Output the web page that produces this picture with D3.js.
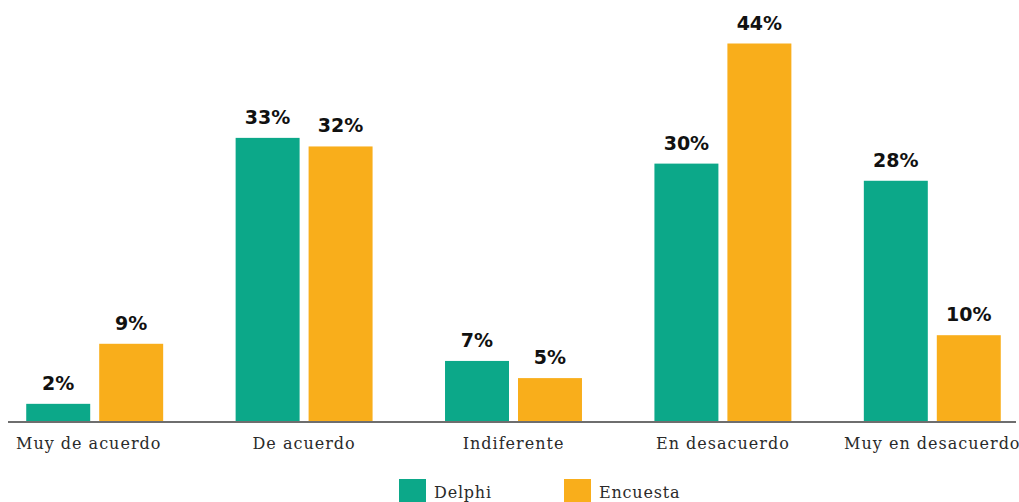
<!DOCTYPE html>
<html>
<head>
<meta charset="utf-8">
<script src="https://cdn.jsdelivr.net/npm/d3@7"></script>
<style>
  html, body { margin: 0; padding: 0; background: #ffffff; }
  svg { display: block; }
</style>
</head>
<body>
<svg id="chart" width="1019" height="502"></svg>
<script>
// Response categories and the two survey sources
const categories = ["Muy de acuerdo", "De acuerdo", "Indiferente", "En desacuerdo", "Muy en desacuerdo"];
const seriesNames = ["Delphi", "Encuesta"];
const delphiValues = [2, 33, 7, 30, 28];
const encuestaValues = [9, 32, 5, 44, 10];
const seriesColors = ["#0ca889", "#f9ae1b"];

const rows = categories.map((c, i) => ({
  category: c,
  values: [
    { key: seriesNames[0], value: delphiValues[i] },
    { key: seriesNames[1], value: encuestaValues[i] }
  ]
}));

const svg = d3.select("#chart");
const baseY = 421;

const x0 = d3.scaleBand()
  .domain(categories)
  .range([-10, 1037])
  .paddingInner(0.346)
  .paddingOuter(0.173);

const x1 = d3.scaleBand()
  .domain(seriesNames)
  .range([0, x0.bandwidth()])
  .paddingInner(9 / 73)
  .paddingOuter(0);

const y = d3.scaleLinear().domain([0, 44]).range([baseY, 43.5]);

const color = d3.scaleOrdinal().domain(seriesNames).range(seriesColors);

// Bars and value labels
const groups = svg.append("g")
  .selectAll("g")
  .data(rows)
  .join("g")
  .attr("transform", d => `translate(${x0(d.category)},0)`);

groups.selectAll("rect")
  .data(d => d.values)
  .join("rect")
  .attr("x", d => x1(d.key))
  .attr("y", d => y(d.value))
  .attr("width", x1.bandwidth())
  .attr("height", d => baseY - y(d.value))
  .attr("fill", d => color(d.key));

groups.selectAll("text")
  .data(d => d.values)
  .join("text")
  .attr("x", d => x1(d.key) + x1.bandwidth() / 2)
  .attr("y", d => y(d.value) - 14)
  .attr("text-anchor", "middle")
  .attr("font-family", "'DejaVu Sans', sans-serif")
  .attr("font-weight", "bold")
  .attr("font-size", 19)
  .attr("fill", "#111111")
  .text(d => d.value + "%");

// Category axis
const xAxis = d3.axisBottom(x0).tickSize(0).tickPadding(0);
const axisG = svg.append("g")
  .attr("transform", `translate(0,${baseY + 1})`)
  .call(xAxis);
axisG.select(".domain").remove();
axisG.append("line")
  .attr("x1", 8).attr("x2", 1016)
  .attr("y1", 0).attr("y2", 0)
  .attr("stroke", "#6e6e6e")
  .attr("stroke-width", 2);
axisG.selectAll(".tick text")
  .attr("y", 27)
  .attr("dy", 0)
  .attr("dx", (d, i) => (i === 0 ? -6 : 0))
  .attr("font-family", "'DejaVu Serif', serif")
  .attr("font-size", 16)
  .attr("letter-spacing", 1)
  .attr("fill", "#2a2a2a");

// Legend
const legendX = [399, 564];
const legend = svg.append("g")
  .selectAll("g")
  .data(seriesNames)
  .join("g")
  .attr("transform", (d, i) => `translate(${legendX[i]},479)`);
legend.append("rect")
  .attr("width", 27).attr("height", 27)
  .attr("fill", d => color(d));
legend.append("text")
  .attr("x", 35).attr("y", 19)
  .attr("font-family", "'DejaVu Serif', serif")
  .attr("font-size", 16)
  .attr("letter-spacing", 0.8)
  .attr("fill", "#2a2a2a")
  .text(d => d);
</script>
</body>
</html>
